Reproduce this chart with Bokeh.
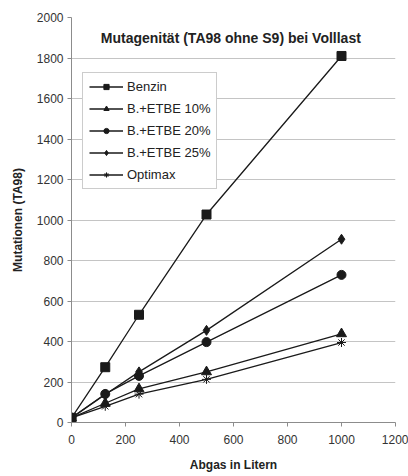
from bokeh.plotting import figure
from bokeh.models import Label, FixedTicker, Range1d
from bokeh.embed import file_html
from bokeh.resources import INLINE

# Exhaust volume (litres) and mutation counts per fuel
abgas = [0, 125, 250, 500, 1000]
benzin = [23, 273, 532, 1027, 1810]
etbe10 = [23, 95, 166, 250, 438]
etbe20 = [23, 141, 230, 397, 729]
etbe25 = [23, 138, 250, 455, 905]
optimax = [23, 80, 140, 213, 395]

series = [
    ("Benzin", benzin, "square", 9),
    ("B.+ETBE 10%", etbe10, "triangle", 10),
    ("B.+ETBE 20%", etbe20, "circle", 9),
    ("B.+ETBE 25%", etbe25, "diamond", 10),
    ("Optimax", optimax, "asterisk", 9),
]

x_ticks = [0, 200, 400, 600, 800, 1000, 1200]
y_ticks = [0, 200, 400, 600, 800, 1000, 1200, 1400, 1600, 1800, 2000]

FONT = "Liberation Sans"
INK = "#1a1a1a"

p = figure(
    frame_width=324, frame_height=405,
    min_border_left=71, min_border_right=13,
    min_border_top=17, min_border_bottom=54,
    x_range=Range1d(0, 1200), y_range=Range1d(0, 2000),
    output_backend="svg", toolbar_location=None,
    background_fill_color="white", border_fill_color="white",
)
p.outline_line_color = None

for name, vals, marker, size in series:
    p.line(abgas, vals, line_color=INK, line_width=1.3, legend_label=name)
    p.scatter(abgas, vals, marker=marker, size=size, fill_color=INK,
              line_color=INK, line_width=1, legend_label=name)

# axes
for ax in (p.xaxis[0], p.yaxis[0]):
    ax.axis_line_color = "#8c8c8c"
    ax.major_tick_line_color = "#8c8c8c"
    ax.major_tick_out = 4
    ax.major_tick_in = 0
    ax.minor_tick_line_color = None
    ax.major_label_text_font = FONT
    ax.major_label_text_font_size = "12px"
    ax.major_label_text_color = "#333333"
    ax.axis_label_text_font = FONT
    ax.axis_label_text_font_size = "12px"
    ax.axis_label_text_font_style = "bold"
    ax.axis_label_text_color = "#222222"

p.xaxis.ticker = FixedTicker(ticks=x_ticks)
p.yaxis.ticker = FixedTicker(ticks=y_ticks)
p.xaxis.axis_label = "Abgas in Litern"
p.yaxis.axis_label = "Mutationen (TA98)"
p.xaxis.major_label_standoff = 8
p.yaxis.major_label_standoff = 4
p.xaxis.axis_label_standoff = 11
p.yaxis.axis_label_standoff = 9

p.xgrid.grid_line_color = None
p.ygrid.ticker = FixedTicker(ticks=y_ticks[1:-1])
p.ygrid.grid_line_color = "#c4c4c4"
p.ygrid.grid_line_width = 1

# chart title inside the plot area
p.add_layout(Label(
    x=590, y=1900, text="Mutagenität (TA98 ohne S9) bei Volllast",
    text_align="center", text_baseline="middle",
    text_font=FONT, text_font_size="14px", text_font_style="bold",
    text_color="#222222",
))

lg = p.legend[0]
lg.location = (11, 233)
lg.border_line_color = "#999999"
lg.border_line_width = 1
lg.background_fill_color = "white"
lg.background_fill_alpha = 1
lg.label_text_font = FONT
lg.label_text_font_size = "13px"
lg.label_text_color = "#222222"
lg.glyph_width = 34
lg.glyph_height = 13
lg.label_height = 13
lg.label_standoff = 4
lg.spacing = 7
lg.padding = 6
lg.margin = 0

open("out.html", "w").write(file_html(p, INLINE))
